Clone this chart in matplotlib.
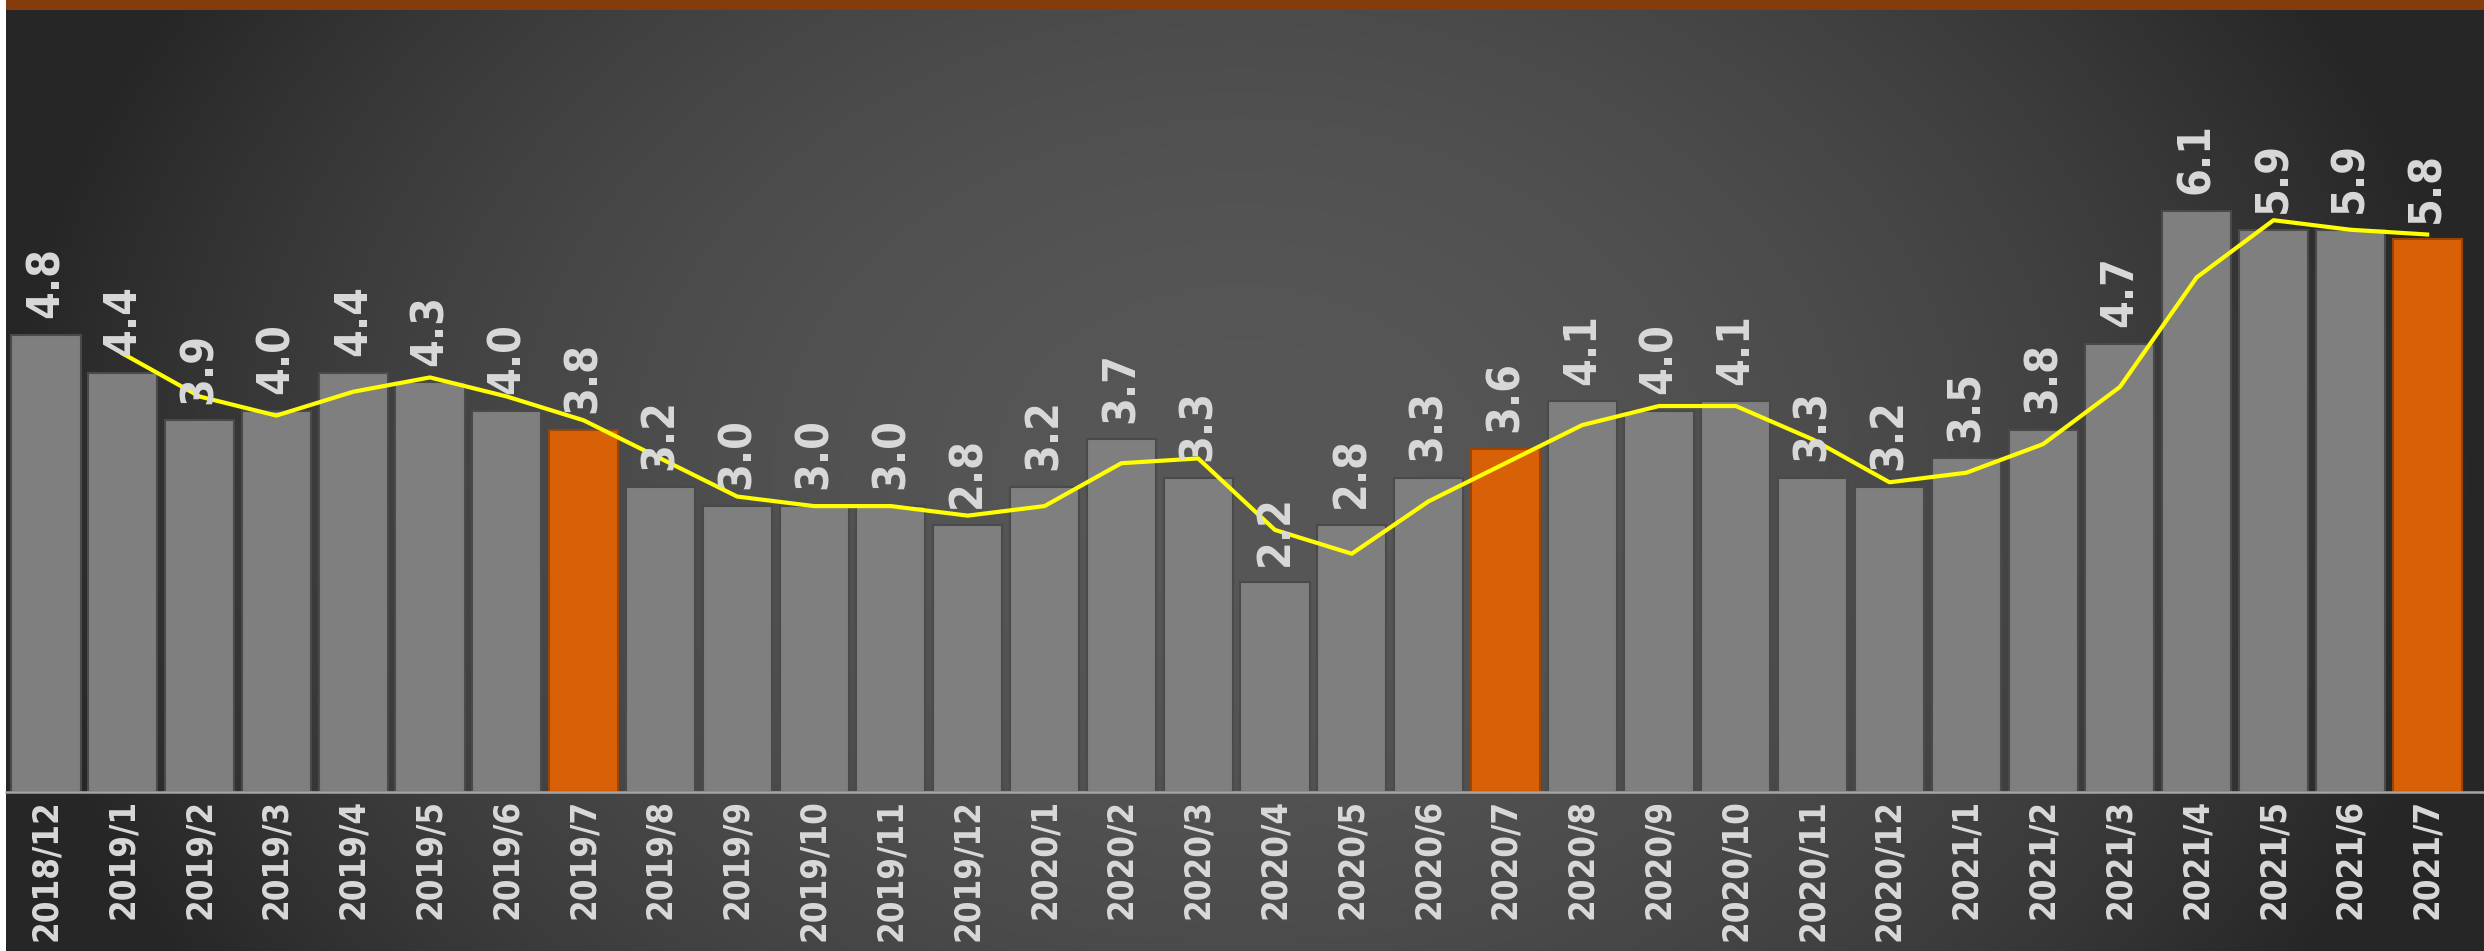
import numpy as np
import matplotlib
matplotlib.use("Agg")
import matplotlib.pyplot as plt
from matplotlib import font_manager as fm

# ---------------- data ----------------
months = ["2018/12", "2019/1", "2019/2", "2019/3", "2019/4", "2019/5", "2019/6", "2019/7",
          "2019/8", "2019/9", "2019/10", "2019/11", "2019/12", "2020/1", "2020/2", "2020/3",
          "2020/4", "2020/5", "2020/6", "2020/7", "2020/8", "2020/9", "2020/10", "2020/11",
          "2020/12", "2021/1", "2021/2", "2021/3", "2021/4", "2021/5", "2021/6", "2021/7"]
values = [4.8, 4.4, 3.9, 4.0, 4.4, 4.3, 4.0, 3.8,
          3.2, 3.0, 3.0, 3.0, 2.8, 3.2, 3.7, 3.3,
          2.2, 2.8, 3.3, 3.6, 4.1, 4.0, 4.1, 3.3,
          3.2, 3.5, 3.8, 4.7, 6.1, 5.9, 5.9, 5.8]
highlight = ["2019/7", "2020/7", "2021/7"]
# trend line (2-month moving average), starts at 2019/1
trend_months = months[1:]
trend_values = [4.6, 4.15, 3.95, 4.2, 4.35, 4.15, 3.9, 3.5, 3.1, 3.0, 3.0, 2.9, 3.0, 3.45, 3.5,
                2.75, 2.5, 3.05, 3.45, 3.85, 4.05, 4.05, 3.7, 3.25, 3.35, 3.65, 4.25, 5.4,
                6.0, 5.9, 5.85]

# ---------------- font ----------------
names = {f.name for f in fm.fontManager.ttflist}
if "Liberation Sans Narrow" in names:
    font = dict(family=["Liberation Sans Narrow", "DejaVu Sans"], weight="bold")
    vsize, tsize = 36, 27
else:
    font = dict(family=["DejaVu Sans"], stretch="condensed", weight="bold")
    vsize, tsize = 32, 25

# ---------------- figure ----------------
W, H = 2484, 951
fig = plt.figure(figsize=(W / 100, H / 100), dpi=100)

bg = fig.add_axes([0, 0, 1, 1])
yy, xx = np.mgrid[0:H, 0:W]
cx, cy, rx, ry = 1240, 475, 1240, 950
d = np.sqrt(((xx - cx) / rx) ** 2 + ((yy - cy) / ry) ** 2)
d = np.clip(d, 0, 1) ** 2
c_in, c_out = 0x57 / 255, 0x26 / 255
g = c_in + (c_out - c_in) * d
img = np.dstack([g, g, g])
img[:10, :, :] = np.array([0x84, 0x3C, 0x0C]) / 255
img[:, :6, :] = 1.0
bg.imshow(img, aspect="auto", interpolation="bilinear")
bg.set_axis_off()

left, right, top, bottom = 6, W, 10, 792
ax = fig.add_axes([left / W, (H - bottom) / H, (right - left) / W, (bottom - top) / H])
ax.patch.set_alpha(0)

x = np.arange(len(months))
colors = ["#D86006" if m in highlight else "#7F7F7F" for m in months]
edges = ["#9A4506" if m in highlight else "#4A4A4A" for m in months]
ax.bar(x, values, width=0.9, color=colors, edgecolor=edges, linewidth=1.5, zorder=2)

tx = np.array([months.index(m) for m in trend_months])
ax.plot(tx, trend_values, color="#FFFF00", linewidth=3, zorder=3)

for xi, v in zip(x, values):
    ax.annotate(f"{v:.1f}", (xi, v), xytext=(0, 12), textcoords="offset points",
                rotation=90, ha="center", va="bottom", color="#D9D9D9",
                fontsize=vsize, zorder=4, **font)

ax.set_xlim(-0.52, 31.74)
ax.set_ylim(0, 782 / 95.3)
ax.set_xticks(x)
ax.set_xticklabels(months, rotation=90, color="#D9D9D9", fontsize=tsize, **font)
ax.tick_params(axis="x", length=0, pad=5)
ax.set_yticks([])
for s in ["top", "right", "left"]:
    ax.spines[s].set_visible(False)
ax.spines["bottom"].set_color("#A6A6A6")
ax.spines["bottom"].set_linewidth(1.8)
ax.spines["bottom"].set_zorder(5)

fig.savefig("out.png", dpi=100)
